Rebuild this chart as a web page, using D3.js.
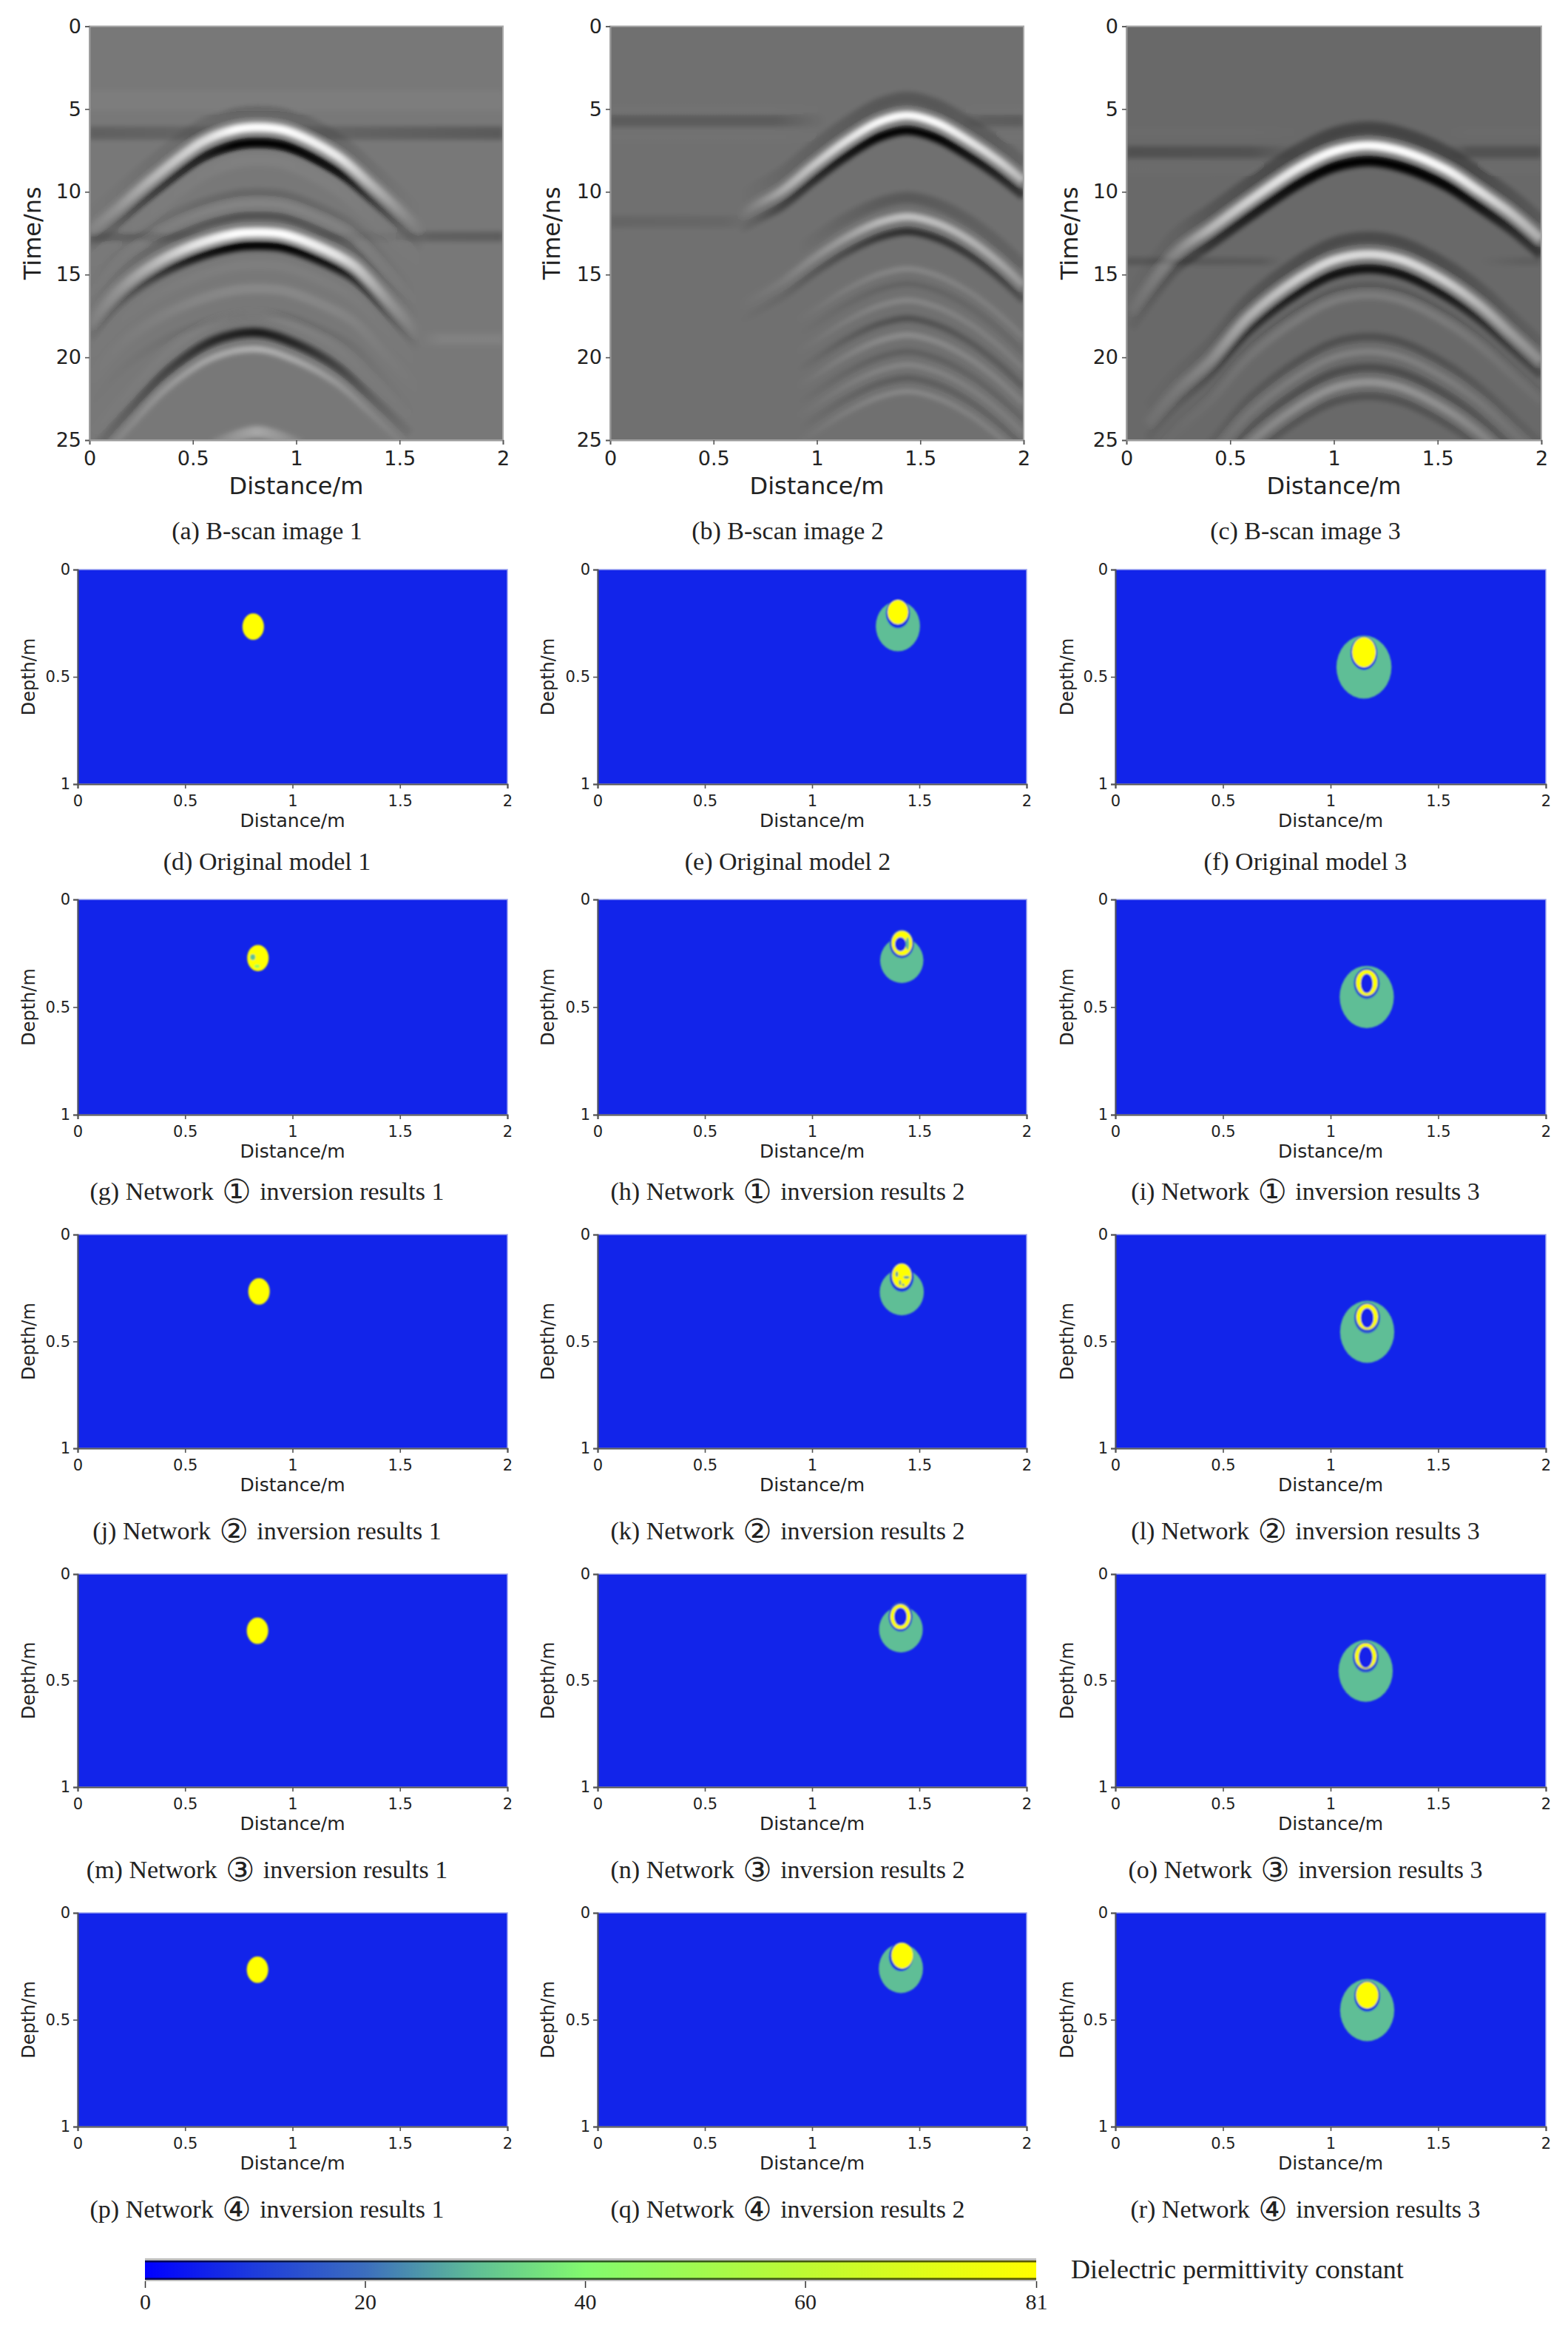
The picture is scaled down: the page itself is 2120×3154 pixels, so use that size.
<!DOCTYPE html>
<html>
<head>
<meta charset="utf-8">
<script src="https://cdn.jsdelivr.net/npm/d3@7"></script>
<style>
  body { margin: 0; background: #fff; }
  text { fill: #222; }
</style>
</head>
<body>
<div id="chart"></div>
<script>
// tick labels
const distanceTicks = [0, 0.5, 1, 1.5, 2];
const timeTicks = [0, 5, 10, 15, 20, 25];
const depthTicks = [0, 0.5, 1];
const colorTicks = [0, 20, 40, 60, 81];

// colour bar
const colorValues = [0, 10, 20, 30, 40, 60, 81];
const colorRange = ["#0000ff", "#1e3cdc", "#3c6ebe", "#5fbe96", "#82fa6e", "#befa32", "#ffff00"];

const scanCaptions = ["(a) B-scan image 1", "(b) B-scan image 2", "(c) B-scan image 3"];
const modelCaptions = [
  ["(d) Original model 1", "(e) Original model 2", "(f) Original model 3"],
  ["(g) Network ① inversion results 1", "(h) Network ① inversion results 2", "(i) Network ① inversion results 3"],
  ["(j) Network ② inversion results 1", "(k) Network ② inversion results 2", "(l) Network ② inversion results 3"],
  ["(m) Network ③ inversion results 1", "(n) Network ③ inversion results 2", "(o) Network ③ inversion results 3"],
  ["(p) Network ④ inversion results 1", "(q) Network ④ inversion results 2", "(r) Network ④ inversion results 3"]
];

// B-scan reflectors: [distance, time, strength]
const scan1Top = [[0, 12.3, .08], [.12, 11.1, .18], [.3, 9.2, .45], [.55, 6.9, .75], [.7, 6.2, 1], [.81, 6.05, 1], [.95, 6.25, 1], [1.2, 7.8, .85], [1.37, 9.6, .45], [1.54, 11.5, .12], [1.62, 12.4, 0]];
const scan1Mid = [[0, 18, .04], [.14, 15.9, .2], [.3, 14.4, .45], [.5, 13.2, .8], [.7, 12.5, 1], [.81, 12.4, 1], [.95, 12.55, 1], [1.2, 13.8, .8], [1.29, 14.5, .6], [1.45, 16.6, .22], [1.6, 18.6, 0]];
const scan1Low = [[.02, 25.6, .1], [.2, 23.1, .3], [.38, 20.8, .55], [.6, 19, .85], [.81, 18.5, 1], [1, 19.2, .85], [1.2, 20.6, .55], [1.37, 22.5, .25], [1.55, 24.6, .08]];
const scan1Bump = [[.6, 25.3, .1], [.81, 24.5, .35], [1.02, 25.3, .1]];
const scan1LineA = [[0, 6.45, .2], [.5, 6.45, .16], [.9, 6.45, .08], [1.2, 6.45, .17], [2, 6.45, .25]];
const scan1LineB = [[0, 12.75, .2], [.5, 12.7, .1], [1.5, 12.7, .05], [1.65, 12.7, .2], [2, 12.7, .22]];
const scan1LineC = [[1.6, 18.9, 0], [1.7, 18.9, .07], [2, 18.9, .07]];
const scan1LineD = [[0, 4.5, .04], [2, 4.5, .04]];

const scan2Top = [[.62, 11.4, 0], [.7, 10.8, .14], [.83, 9.9, .4], [.98, 8.4, .6], [1.13, 7, .8], [1.3, 5.75, 1], [1.44, 5.35, 1], [1.58, 5.8, 1], [1.73, 6.85, .85], [1.88, 8.1, .7], [2, 9.3, .5]];
const scan2Mid = [[.62, 16.9, 0], [.83, 15.4, .12], [.98, 14, .3], [1.13, 12.8, .5], [1.3, 11.8, .8], [1.44, 11.45, .9], [1.58, 11.85, .85], [1.73, 12.8, .75], [1.88, 14.2, .6], [2, 15.6, .4]];
const scan2Deep = [[.9, 14.6, 0], [.98, 14, .2], [1.13, 12.8, .55], [1.3, 11.8, .9], [1.44, 11.45, 1], [1.58, 11.85, .9], [1.73, 12.8, .75], [1.88, 14.2, .65], [2, 15.6, .55]];
const scan2LineA = [[0, 5.7, .18], [.8, 5.7, .18], [1.05, 5.7, 0], [1.7, 5.7, 0], [1.8, 5.7, .16], [2, 5.7, .18]];
const scan2LineB = [[0, 11.8, .1], [.55, 11.8, .08], [.7, 11.8, 0]];

const scan3Top = [[.02, 17.2, .04], [.24, 13.6, .2], [.4, 12.2, .5], [.59, 10.5, .7], [.83, 8.5, .9], [1, 7.5, 1], [1.17, 7.15, 1], [1.33, 7.5, 1], [1.54, 8.6, .95], [1.7, 9.9, .8], [1.86, 11.3, .6], [2, 12.8, .45]];
const scan3Mid = [[.1, 24, .05], [.24, 22, .12], [.4, 20.2, .25], [.59, 17.5, .55], [.83, 15.2, .8], [1, 14.1, .9], [1.17, 13.75, .9], [1.33, 14.1, .9], [1.54, 15.4, .8], [1.7, 16.8, .6], [1.86, 18.6, .4], [2, 20.2, .28]];
const scan3LineA = [[0, 7.6, .24], [.6, 7.6, .22], [.85, 7.6, 0], [1.55, 7.6, 0], [1.65, 7.6, .22], [2, 7.6, .22]];
const scan3LineB = [[0, 14.2, .18], [.65, 14.2, .14], [.75, 14.2, 0], [1.7, 14.2, 0], [1.9, 14.2, .1], [2, 14.2, .1]];

// B-scan bands: which reflector, time shift, sign, width in ns, strength
const scan1Curves = [scan1Top, scan1Mid, scan1Low, scan1Bump, scan1LineA, scan1LineB, scan1LineC, scan1LineD];
const scan1Bands = [
  [7, 0, 1, 1.2, 1], [4, 0, -1, .8, 1], [5, 0, -1, .6, 1], [6, 0, 1, .7, 1],
  [0, -.95, -1, .8, .15], [0, .05, 1, .58, 1], [0, 1, -1, .58, 1], [0, 2, 1, .8, .06],
  [1, -2.35, -1, .5, .14], [1, -1.7, 1, .4, .1], [1, -.95, -1, .5, .32],
  [1, .05, 1, .6, 1], [1, .85, -1, .52, 1], [1, 2, 1, .6, .05], [1, 3.45, 1, .6, .12], [1, 5, -1, .5, .1],
  [2, 0, -1, .55, .8], [2, 1, 1, .38, .45], [2, -1.1, 1, .5, .08], [3, 0, 1, .7, 1]
];

const scan2Curves = [scan2Top, scan2Mid, scan2LineA, scan2LineB, scan2Deep];
const scan2Bands = [
  [2, 0, -1, .7, 1], [3, 0, -1, .7, 1], [2, -.7, 1, .4, .08], [2, 1, 1, .5, .08],
  [0, -1, -1, .8, .22], [0, .03, 1, .52, 1], [0, .95, -1, .52, 1],
  [4, -1.1, -1, .7, .2], [1, .05, 1, .48, .65], [1, .95, -1, .42, .7],
  [4, 3.2, 1, .32, .18], [4, 4.1, -1, .32, .14], [4, 5.1, 1, .32, .18], [4, 6.2, -1, .35, .32],
  [4, 7.2, 1, .35, .22], [4, 8.2, -1, .3, .2], [4, 9.0, 1, .3, .18], [4, 9.8, -1, .3, .22], [4, 10.6, 1, .3, .2]
];

const scan3Curves = [scan3Top, scan3Mid, scan3LineA, scan3LineB];
const scan3Bands = [
  [2, 0, -1, .7, 1], [3, 0, -1, .45, 1], [2, -1.2, 1, .5, .07], [2, 1, 1, .6, .08],
  [0, -1, -1, .8, .35], [0, .05, 1, .58, 1], [0, 1, -1, .62, 1],
  [1, -1, -1, .7, .32], [1, .02, 1, .56, .85], [1, .9, -1, .52, .95],
  [1, 1.9, -1, .4, .18], [1, 2.5, 1, .45, .15], [1, 5, -1, .45, .28], [1, 5.9, 1, .42, .18],
  [1, 6.85, -1, .45, .32], [1, 7.75, 1, .5, .32], [1, 8.6, -1, .45, .25]
];

const scanBackground = ["#787878", "#707070", "#696969"];

// model regions: [distance, depth, x radius, y radius, permittivity]
const modelRows = [
  [
    [[.817, .266, .05, .062, 81]],
    [[1.4, .264, .103, .117, 30], [1.4, .205, .056, .068, 8], [1.4, .198, .048, .057, 81]],
    [[1.155, .455, .128, .147, 30], [1.155, .39, .062, .078, 8], [1.155, .385, .055, .07, 81]]
  ],
  [
    [[.839, .272, .05, .061, 81], [.815, .268, .012, .014, 30], [.835, .31, .012, .008, 45]],
    [[1.418, .283, .101, .105, 30], [1.418, .206, .057, .067, 14], [1.419, .203, .048, .057, 81], [1.412, .208, .026, .033, 6], [1.445, .205, .008, .03, 30]],
    [[1.168, .453, .126, .145, 30], [1.168, .39, .06, .072, 14], [1.168, .387, .05, .06, 81], [1.168, .39, .028, .045, 6]]
  ],
  [
    [[.844, .266, .05, .062, 81]],
    [[1.418, .27, .103, .108, 30], [1.418, .2, .056, .068, 10], [1.418, .193, .045, .057, 81], [1.395, .185, .006, .013, 25], [1.44, .2, .014, .006, 25], [1.41, .225, .005, .012, 25], [1.425, .235, .006, .006, 25]],
    [[1.17, .455, .126, .145, 30], [1.17, .39, .06, .072, 14], [1.17, .385, .05, .06, 81], [1.17, .39, .03, .046, 6]]
  ],
  [
    [[.837, .266, .05, .062, 81]],
    [[1.414, .26, .102, .108, 30], [1.412, .2, .056, .07, 14], [1.412, .2, .047, .058, 81], [1.412, .2, .03, .042, 6]],
    [[1.163, .455, .126, .145, 30], [1.163, .39, .06, .072, 14], [1.163, .385, .05, .06, 81], [1.163, .39, .032, .05, 6]]
  ],
  [
    [[.837, .266, .05, .062, 81]],
    [[1.414, .26, .103, .115, 30], [1.414, .205, .056, .068, 10], [1.42, .2, .05, .06, 81]],
    [[1.17, .455, .126, .145, 30], [1.17, .39, .06, .072, 10], [1.17, .385, .052, .062, 81]]
  ]
];
const modelBackground = 6;

// layout
const scanCols = [[121, 680], [825, 1384], [1523, 2084]];
const scanRow = [35.5, 595];
const scanLabelX = [46, 748, 1448];
const modelCols = [[105, 686], [808, 1388], [1508, 2090]];
const modelRowY = [[770, 1060], [1216, 1507], [1669, 1958], [2128, 2416], [2586, 2875]];
const modelLabelX = [40, 742, 1444];
const captionX = [361, 1065, 1765];
const captionY = [1168, 1614, 2073, 2531, 2990];

const svg = d3.select("#chart").append("svg")
  .attr("width", 2120)
  .attr("height", 3154)
  .style("display", "block");
const defs = svg.append("defs");
const color = d3.scaleLinear().domain(colorValues).range(colorRange);
const sans = "'DejaVu Sans', sans-serif";
const serif = "'Liberation Serif', serif";

function styleAxis(g, size, domainColor) {
  g.selectAll("text").style("font-family", sans).style("font-size", size + "px");
  g.selectAll("line").attr("stroke", "#555").attr("stroke-width", 1.6);
  g.select(".domain").attr("stroke", domainColor).attr("stroke-width", 2);
}

function drawAxes(panel, x, y, yTicks, h, fonts, gaps, domainColor) {
  panel.append("g")
    .attr("transform", "translate(0," + h + ")")
    .call(d3.axisBottom(x).tickValues(distanceTicks).tickFormat(String).tickSize(6).tickPadding(gaps[0]))
    .call(styleAxis, fonts[0], domainColor);
  panel.append("g")
    .call(d3.axisLeft(y).tickValues(yTicks).tickFormat(String).tickSize(6).tickPadding(gaps[1]))
    .call(styleAxis, fonts[0], domainColor);
}

function drawCaption(text, cx, cy) {
  const label = svg.append("text")
    .attr("x", cx)
    .attr("y", cy)
    .attr("text-anchor", "middle")
    .attr("dominant-baseline", "middle")
    .style("font-family", serif)
    .style("font-size", "34px");
  label.selectAll("tspan")
    .data(text.split(/([①-④])/))
    .enter()
    .append("tspan")
    .attr("dx", (d, i) => i > 0 ? 3 : 0)
    .style("font-family", d => /[①-④]/.test(d) ? sans : serif)
    .style("font-size", d => /[①-④]/.test(d) ? "44px" : "34px")
    .text(d => d);
}

// B-scans
const scanCurves = [scan1Curves, scan2Curves, scan3Curves];
const scanBands = [scan1Bands, scan2Bands, scan3Bands];

scanCols.forEach(function (col, i) {
  const w = col[1] - col[0];
  const h = scanRow[1] - scanRow[0];
  const x = d3.scaleLinear().domain([0, 2]).range([0, w]);
  const y = d3.scaleLinear().domain([0, 25]).range([0, h]);
  const panel = svg.append("g").attr("transform", "translate(" + col[0] + "," + scanRow[0] + ")");

  defs.append("clipPath").attr("id", "scan-clip-" + i)
    .append("rect").attr("width", w).attr("height", h);
  const blur = defs.append("filter").attr("id", "scan-blur-" + i)
    .attr("filterUnits", "userSpaceOnUse")
    .attr("x", -20).attr("y", -20).attr("width", w + 40).attr("height", h + 40);
  blur.append("feGaussianBlur").attr("stdDeviation", 3.4);

  const inner = panel.append("g").attr("clip-path", "url(#scan-clip-" + i + ")");
  inner.append("rect").attr("width", w).attr("height", h).attr("fill", scanBackground[i]);
  const bandLayer = inner.append("g").attr("filter", "url(#scan-blur-" + i + ")");

  const line = d3.line().x(d => x(d[0])).y(d => y(d[1])).curve(d3.curveCatmullRom);

  scanBands[i].forEach(function (band, j) {
    const curve = scanCurves[i][band[0]];
    const tone = band[2] > 0 ? "#fff" : "#000";
    const id = "band-" + i + "-" + j;
    const x0 = curve[0][0];
    const x1 = curve[curve.length - 1][0];
    const gradient = defs.append("linearGradient").attr("id", id)
      .attr("gradientUnits", "userSpaceOnUse")
      .attr("x1", x(x0)).attr("x2", x(x1)).attr("y1", 0).attr("y2", 0);
    gradient.selectAll("stop").data(curve).enter().append("stop")
      .attr("offset", d => (d[0] - x0) / (x1 - x0))
      .attr("stop-color", tone)
      .attr("stop-opacity", d => d[2] * band[4]);
    bandLayer.append("path")
      .datum(curve.map(d => [d[0], d[1] + band[1]]))
      .attr("d", line)
      .attr("fill", "none")
      .attr("stroke", "url(#" + id + ")")
      .attr("stroke-width", y(band[3]));
  });

  panel.append("rect").attr("width", w).attr("height", h)
    .attr("fill", "none").attr("stroke", "#aaa").attr("stroke-width", 2);
  drawAxes(panel, x, y, timeTicks, h, [27], [9, 5], "#999");

  svg.append("text")
    .attr("x", (col[0] + col[1]) / 2).attr("y", 659)
    .attr("text-anchor", "middle").attr("dominant-baseline", "middle")
    .style("font-family", sans).style("font-size", "32px")
    .text("Distance/m");
  svg.append("text")
    .attr("transform", "translate(" + scanLabelX[i] + "," + (scanRow[0] + h / 2) + ") rotate(-90)")
    .attr("text-anchor", "middle").attr("dominant-baseline", "middle")
    .style("font-family", sans).style("font-size", "32px")
    .text("Time/ns");
  drawCaption(scanCaptions[i], captionX[i], 721);
});

// models
defs.append("filter").attr("id", "model-soft")
  .append("feGaussianBlur").attr("stdDeviation", 0.9);

modelRows.forEach(function (row, r) {
  const top = modelRowY[r][0];
  const h = modelRowY[r][1] - top;
  row.forEach(function (regions, c) {
    const col = modelCols[c];
    const w = col[1] - col[0];
    const x = d3.scaleLinear().domain([0, 2]).range([0, w]);
    const y = d3.scaleLinear().domain([0, 1]).range([0, h]);
    const panel = svg.append("g").attr("transform", "translate(" + col[0] + "," + top + ")");

    panel.append("rect").attr("width", w).attr("height", h)
      .attr("fill", color(modelBackground))
      .attr("stroke", "#9aa2f0").attr("stroke-width", 1.5);
    panel.append("g").attr("filter", "url(#model-soft)")
      .selectAll("ellipse")
      .data(regions)
      .enter()
      .append("ellipse")
      .attr("cx", d => x(d[0]))
      .attr("cy", d => y(d[1]))
      .attr("rx", d => x(d[2]))
      .attr("ry", d => y(d[3]))
      .attr("fill", d => color(d[4]));

    drawAxes(panel, x, y, depthTicks, h, [21], [9, 4], "#555");

    svg.append("text")
      .attr("x", col[0] + w / 2).attr("y", top + h + 51)
      .attr("text-anchor", "middle").attr("dominant-baseline", "middle")
      .style("font-family", sans).style("font-size", "25px")
      .text("Distance/m");
    svg.append("text")
      .attr("transform", "translate(" + modelLabelX[c] + "," + (top + h / 2) + ") rotate(-90)")
      .attr("text-anchor", "middle").attr("dominant-baseline", "middle")
      .style("font-family", sans).style("font-size", "24px")
      .text("Depth/m");
    drawCaption(modelCaptions[r][c], captionX[c], captionY[r]);
  });
});

// colour bar
const barX = d3.scaleLinear().domain([0, 81]).range([196, 1401]);
const barGradient = defs.append("linearGradient").attr("id", "bar-gradient");
barGradient.selectAll("stop").data(colorValues).enter().append("stop")
  .attr("offset", d => d / 81)
  .attr("stop-color", d => color(d));

svg.append("rect").attr("x", 196).attr("y", 3053).attr("width", 1205).attr("height", 31).attr("fill", "#bdbdbd");
svg.append("rect").attr("x", 196).attr("y", 3056).attr("width", 1205).attr("height", 26).attr("fill", "url(#bar-gradient)");
svg.append("rect").attr("x", 196).attr("y", 3056).attr("width", 1205).attr("height", 2.5).attr("fill", "#000").attr("opacity", .65);
svg.append("rect").attr("x", 196).attr("y", 3079.5).attr("width", 1205).attr("height", 2.5).attr("fill", "#000").attr("opacity", .65);

const barAxis = svg.append("g")
  .attr("transform", "translate(0,3084)")
  .call(d3.axisBottom(barX).tickValues(colorTicks).tickFormat(String).tickSize(9).tickPadding(8));
barAxis.select(".domain").remove();
barAxis.selectAll("line").attr("stroke", "#333").attr("stroke-width", 1.5);
barAxis.selectAll("text").style("font-family", serif).style("font-size", "30px");

svg.append("text")
  .attr("x", 1448).attr("y", 3072)
  .attr("dominant-baseline", "middle")
  .style("font-family", serif).style("font-size", "36px")
  .text("Dielectric permittivity constant");
</script>
</body>
</html>
